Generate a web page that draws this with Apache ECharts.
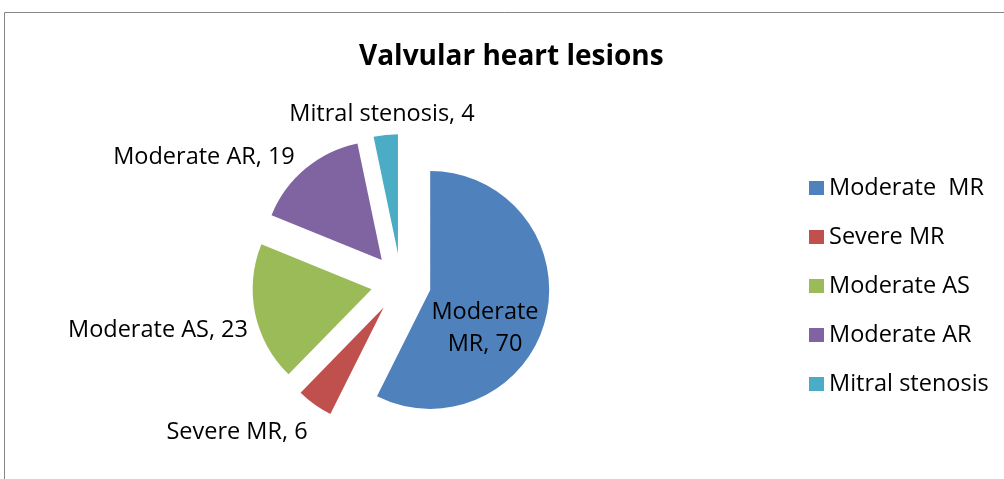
<!DOCTYPE html>
<html>
<head>
<meta charset="utf-8">
<script src="https://cdn.jsdelivr.net/npm/echarts@6/dist/echarts.min.js"></script>
<style>
  html, body { margin: 0; padding: 0; background: #fff; }
  #echart { width: 1004px; height: 479px; }
</style>
</head>
<body>
<div id="echart"></div>
<script>
var lesions = ['Moderate  MR', 'Severe MR', 'Moderate AS', 'Moderate AR', 'Mitral stenosis'];
var counts = [70, 6, 23, 19, 4];
var colors = ['#4F81BD', '#C0504D', '#9BBB59', '#8064A2', '#4BACC6'];
// where Excel put each data label (centre of the text)
var labelSpots = [[485, 327], [237, 431], [158, 329], [204, 156], [382, 113]];

var font = 'Open Sans';
var explode = 30;

// direction of each slice's middle, clockwise from 12 o'clock
var total = counts.reduce(function (a, b) { return a + b; }, 0);
var midDirs = [];
var acc = 0;
counts.forEach(function (v) {
    var t = 2 * Math.PI * (acc + v / 2) / total;
    midDirs.push([Math.sin(t), -Math.cos(t)]);
    acc += v;
});

var myChart = echarts.init(document.getElementById('echart'));
var option = {
    animation: false,
    title: {
        text: 'Valvular heart lesions',
        left: 359,
        top: 43,
        padding: 0,
        textStyle: { fontFamily: font, fontSize: 28, fontWeight: 'bold', color: '#000' }
    },
    legend: {
        orient: 'vertical',
        left: 809,
        top: 176,
        padding: 0,
        icon: 'rect',
        itemWidth: 15,
        itemHeight: 14,
        itemGap: 25,
        selectedMode: false,
        textStyle: { fontFamily: font, fontSize: 23.5, color: '#000' }
    },
    graphic: [{
        type: 'rect',
        shape: { x: 4.5, y: 12.5, width: 1100, height: 600 },
        style: { fill: 'none', stroke: '#868686', lineWidth: 1 },
        silent: true
    }],
    series: [{
        type: 'pie',
        center: [401, 283],
        radius: 119,
        startAngle: 90,
        clockwise: true,
        selectedMode: 'multiple',
        selectedOffset: explode,
        avoidLabelOverlap: false,
        label: {
            show: true,
            position: 'outside',
            fontFamily: font,
            fontSize: 23.5,
            color: '#000',
            lineHeight: 32,
            formatter: function (p) {
                var n = p.name.replace(/\s+/g, ' ');
                if (p.dataIndex === 0) {
                    return n.replace(' ', '\n') + ', ' + p.value;
                }
                return n + ', ' + p.value;
            }
        },
        labelLine: { show: false },
        labelLayout: function (p) {
            var s = labelSpots[p.dataIndex];
            var d = midDirs[p.dataIndex];
            var r = p.labelRect;
            return {
                dx: s[0] - explode * d[0] - (r.x + r.width / 2),
                dy: s[1] + 1 - explode * d[1] - (r.y + r.height / 2)
            };
        },
        emphasis: { disabled: true },
        data: lesions.map(function (name, i) {
            var item = {
                name: name,
                value: counts[i],
                selected: true,
                itemStyle: { color: colors[i] },
                select: { itemStyle: { color: colors[i] } }
            };
            if (i === 0) {
                item.label = { position: 'inside' };
            }
            return item;
        })
    }]
};
myChart.setOption(option);
</script>
</body>
</html>
